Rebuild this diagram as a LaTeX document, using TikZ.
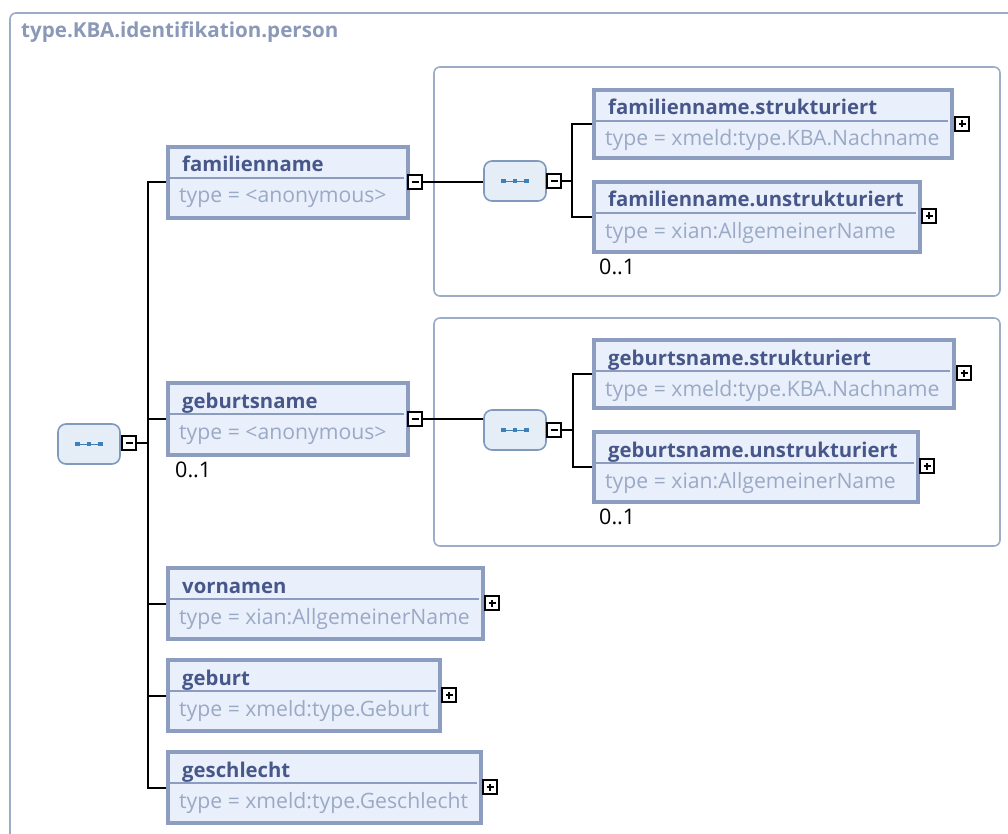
\documentclass[tikz,border=0pt]{standalone}
\usepackage{fontspec}
\setmainfont{Open Sans}
\definecolor{elemB}{HTML}{8C9DC0}
\definecolor{elemF}{HTML}{E9F0FB}
\definecolor{ttlC}{HTML}{48578A}
\definecolor{typC}{HTML}{9AA9C6}
\definecolor{frmC}{HTML}{9DACC8}
\definecolor{headC}{HTML}{8A99B8}
\definecolor{seqF}{HTML}{E5EDF6}
\definecolor{seqB}{HTML}{7F9ABD}
\definecolor{seqI}{HTML}{3F80B8}
\tikzset{
 elem/.style={draw=elemB, line width=3.2pt, fill=elemF, inner sep=0pt},
 divl/.style={draw=elemB, line width=1.3pt},
 ttl/.style={anchor=base west, inner sep=0pt, text=ttlC, font=\fontsize{20.3}{24}\selectfont\bfseries},
 typ/.style={anchor=base west, inner sep=0pt, text=typC, font=\fontsize{21.2}{24}\selectfont},
 pm/.style={draw=black, line width=2pt, fill=white, minimum size=13.5pt, inner sep=0pt},
 pmbar/.style={line width=2pt, draw=black},
 seqbox/.style={draw=seqB, line width=1.6pt, fill=seqF, rounded corners=8pt, minimum width=62pt, minimum height=40pt, inner sep=0pt},
 conn/.style={draw=black, line width=2pt},
 frm/.style={draw=frmC, line width=1.6pt, rounded corners=6pt},
 card/.style={anchor=base west, inner sep=0pt, font=\fontsize{21.5}{24}\selectfont},
 head/.style={anchor=base west, inner sep=0pt, text=headC, font=\fontsize{20.6}{24}\selectfont\bfseries}
}
\newcommand\elembox[7]{%
 \node[elem, minimum width={#4-#2}, minimum height={#5-#3}] (#1) at ({(#2+#4)/2},{(#3+#5)/2}) {};
 \draw[divl] (#2+1.5,#3+31) -- (#4-4,#3+31);
 \node[ttl] (#1-n) at (#2+14,#3+25) {#6};
 \node[typ] (#1-ty) at (#2+11,#3+56) {#7};
}
\newcommand\minusbox[3]{%
 \node[pm] (#1) at (#2,#3) {};
 \draw[pmbar] ([xshift=-3.5pt]#1.center) -- ([xshift=3.5pt]#1.center);
}
\newcommand\plusbox[3]{%
 \node[pm] (#1) at (#2,#3) {};
 \draw[pmbar] ([xshift=-3.5pt]#1.center) -- ([xshift=3.5pt]#1.center);
 \draw[pmbar] ([yshift=-3.5pt]#1.center) -- ([yshift=3.5pt]#1.center);
}
\newcommand\seqnode[3]{%
 \node[seqbox] (#1) at (#2,#3) {};
 \draw[seqI, line width=0.7pt] ([xshift=-11.5pt]#1.center) -- ([xshift=11.5pt]#1.center);
 \foreach \dx in {-11.5,0,11.5} {
   \fill[seqI] ([xshift=\dx pt-2.3pt, yshift=-2.3pt]#1.center) rectangle ++(4.6pt,4.6pt);
 }
}
\begin{document}
\begin{tikzpicture}[x=1pt, y=-1pt]
\useasboundingbox (0,0) rectangle (1008,834);
\clip (0,0) rectangle (1008,834);
\fill[white] (0,0) rectangle (1008,834);
% outer frame
\draw[frm] (10,13) rectangle (1030,870);
\node[head] (title) at (21,38) {type.KBA.identifikation.person};
% inner frames
\draw[frm] (434,67) rectangle (1000,296);
\draw[frm] (434,318) rectangle (1000,546);
% root sequence
\seqnode{root}{89}{444}
\minusbox{rootm}{129}{443}
\coordinate (trunk) at (148,443);
% children
\elembox{fam}{168}{147}{408}{218}{familienname}{type = <anonymous>}
\minusbox{famm}{415}{182}
\elembox{geb}{168}{383}{408}{455}{geburtsname}{type = <anonymous>}
\minusbox{gebm}{415}{419}
\node[card] (gebc) at (175,477) {0..1};
\elembox{vor}{168}{568}{483}{639}{vornamen}{type = xian:AllgemeinerName}
\plusbox{vorp}{492}{603}
\elembox{gbt}{168}{660}{440}{731}{geburt}{type = xmeld:type.Geburt}
\plusbox{gbtp}{449}{695}
\elembox{ges}{168}{752}{481}{823}{geschlecht}{type = xmeld:type.Geschlecht}
\plusbox{gesp}{490}{787}
% familienname sequence
\seqnode{seqF}{515}{181}
\minusbox{seqFm}{554}{181}
\coordinate (trF) at (572,181);
\elembox{famS}{594}{90}{952}{158}{familienname.strukturiert}{type = xmeld:type.KBA.Nachname}
\plusbox{famSp}{962}{124}
\elembox{famU}{594}{182}{920}{252}{familienname.unstrukturiert}{type = xian:AllgemeinerName}
\plusbox{famUp}{929}{216}
\node[card] (famUc) at (599,274) {0..1};
% geburtsname sequence
\seqnode{seqG}{515}{430}
\minusbox{seqGm}{554}{430}
\coordinate (trG) at (573,430);
\elembox{gebS}{594}{340}{954}{408}{geburtsname.strukturiert}{type = xmeld:type.KBA.Nachname}
\plusbox{gebSp}{964}{373}
\elembox{gebU}{594}{432}{918}{502}{geburtsname.unstrukturiert}{type = xian:AllgemeinerName}
\plusbox{gebUp}{927}{466}
\node[card] (gebUc) at (599,524) {0..1};
% connectors
\draw[conn] (rootm.east) -- (trunk) |- (fam.west);
\draw[conn] (trunk) |- (geb.west);
\draw[conn] (trunk) |- (vor.west);
\draw[conn] (trunk) |- (gbt.west);
\draw[conn] (trunk) |- (ges.west);
\draw[conn] (famm.east) -- (famm.east -| seqF.west);
\draw[conn] (gebm.east) -- (gebm.east -| seqG.west);
\draw[conn] (seqFm.east) -- (trF) |- (famS.west);
\draw[conn] (trF) |- (famU.west);
\draw[conn] (seqGm.east) -- (trG) |- (gebS.west);
\draw[conn] (trG) |- (gebU.west);
\end{tikzpicture}
\end{document}
